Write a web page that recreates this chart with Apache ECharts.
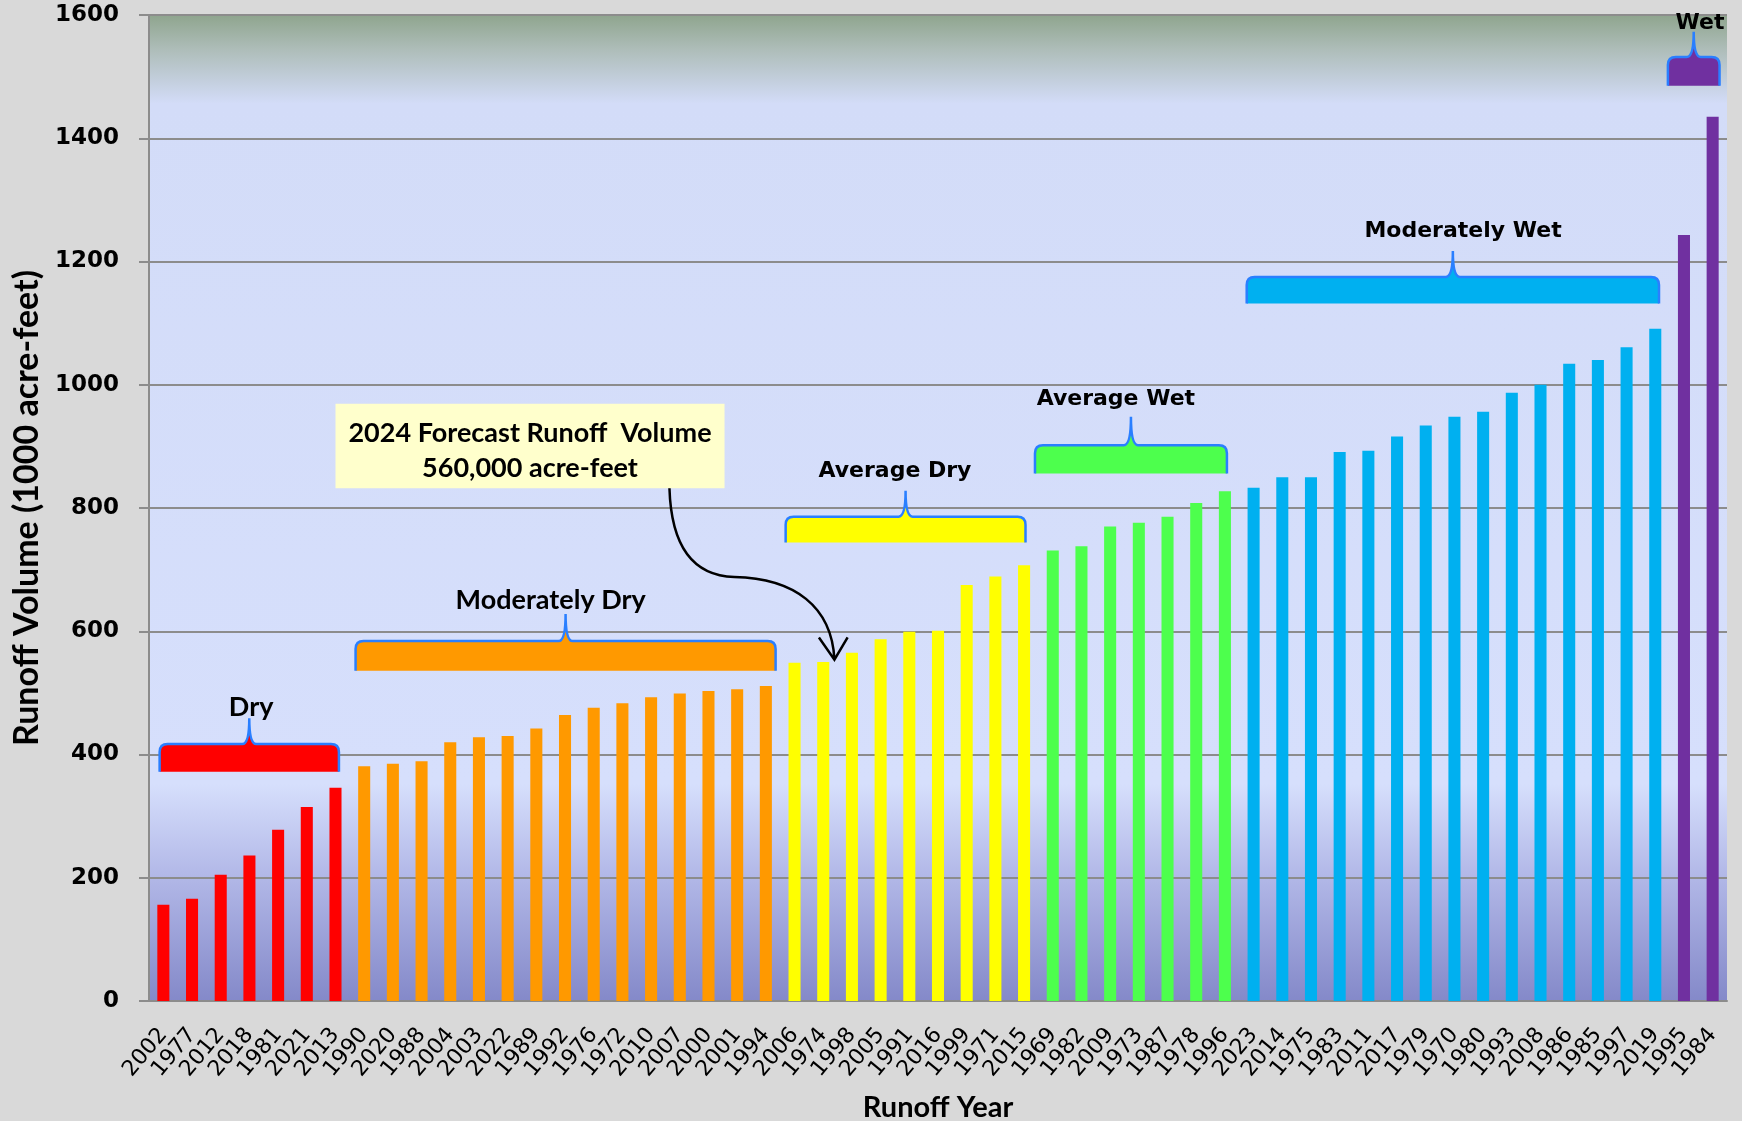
<!DOCTYPE html>
<html>
<head>
<meta charset="utf-8">
<title>Runoff Volume by Runoff Year</title>
<script src="https://cdn.jsdelivr.net/npm/echarts@6/dist/echarts.min.js"></script>
<style>
  html, body { margin: 0; padding: 0; background: #d9d9d9; }
  #main { width: 1742px; height: 1121px; }
</style>
</head>
<body>
<div id="main"></div>
<script>
// runoff years, ordered from driest to wettest
var years = ['2002', '1977', '2012', '2018', '1981', '2021', '2013',
  '1990', '2020', '1988', '2004', '2003', '2022', '1989', '1992', '1976', '1972', '2010', '2007', '2000', '2001', '1994',
  '2006', '1974', '1998', '2005', '1991', '2016', '1999', '1971', '2015',
  '1969', '1982', '2009', '1973', '1987', '1978', '1996',
  '2023', '2014', '1975', '1983', '2011', '2017', '1979', '1970', '1980', '1993', '2008', '1986', '1985', '1997', '2019',
  '1995', '1984'];

// runoff volume, 1000 acre-feet
var runoff = [156, 166, 205, 236, 278, 315, 346,
  381, 385, 389, 420, 428, 430, 442, 464, 476, 483, 493, 499, 503, 506, 511,
  549, 550, 565, 587, 599, 601, 675, 689, 707,
  731, 738, 770, 776, 786, 808, 827,
  833, 850, 850, 891, 893, 916, 934, 948, 956, 987, 1000, 1034, 1040, 1061, 1091,
  1243, 1435];

// year classes, in the same order as the bars
var classNames = ['Dry', 'Moderately Dry', 'Average Dry', 'Average Wet', 'Moderately Wet', 'Wet'];
var classSizes = [7, 15, 9, 7, 15, 2];
var classColors = ['#ff0000', '#ff9900', '#ffff00', '#4dff4d', '#00b0f0', '#7030a0'];

var forecastLines = ['2024 Forecast Runoff  Volume', '560,000 acre-feet'];

// bracket placement, in category units (x) and axis values (y)
var brackets = [
  { from: -0.13, to: 6.12,  bottom: 372,  top: 417,  tip: 459,  lx: 3.06,  ly: 476,  font: 'lato' },
  { from: 6.70,  to: 21.34, bottom: 536,  top: 584,  tip: 628,  lx: 13.5,  ly: 650,  font: 'lato' },
  { from: 21.69, to: 30.05, bottom: 744,  top: 786,  tip: 828,  lx: 25.5,  ly: 859,  font: 'dv' },
  { from: 30.38, to: 37.07, bottom: 856,  top: 902,  tip: 948,  lx: 33.2,  ly: 976,  font: 'dv' },
  { from: 37.76, to: 52.13, bottom: 1132, top: 1175, tip: 1217, lx: 45.3,  ly: 1249, font: 'dv' },
  { from: 52.44, to: 54.24, bottom: 1485, top: 1532, tip: 1573, lx: 53.56, ly: 1587, font: 'dv' }
];

var classOf = [];
classSizes.forEach(function (n, k) {
  for (var i = 0; i < n; i++) classOf.push(k);
});

var barData = runoff.map(function (v, i) {
  return { value: v, itemStyle: { color: classColors[classOf[i]] } };
});

// pixel position for a (category unit, value) pair
function px(api, u, v) {
  var a = api.coord([0, v]);
  var b = api.coord([1, v]);
  return [a[0] + (b[0] - a[0]) * u, a[1]];
}

function renderBracket(params, api) {
  var k = params.dataIndex, b = brackets[k];
  var l = px(api, b.from, b.bottom)[0], r = px(api, b.to, b.bottom)[0];
  var yb = px(api, 0, b.bottom)[1], yt = px(api, 0, b.top)[1], ytip = px(api, 0, b.tip)[1];
  var cx = (l + r) / 2, rad = 8, s = 7;
  var edge = 'M' + l + ',' + yb +
    ' L' + l + ',' + (yt + rad) +
    ' Q' + l + ',' + yt + ' ' + (l + rad) + ',' + yt +
    ' L' + (cx - s) + ',' + yt +
    ' Q' + cx + ',' + yt + ' ' + cx + ',' + ytip +
    ' Q' + cx + ',' + yt + ' ' + (cx + s) + ',' + yt +
    ' L' + (r - rad) + ',' + yt +
    ' Q' + r + ',' + yt + ' ' + r + ',' + (yt + rad) +
    ' L' + r + ',' + yb;
  var p = px(api, b.lx, b.ly);
  return {
    type: 'group',
    children: [
      { type: 'path', shape: { pathData: edge + ' Z' }, style: { fill: classColors[k], stroke: null } },
      { type: 'path', shape: { pathData: edge }, style: { fill: null, stroke: '#2a7fff', lineWidth: 2.5 } },
      { type: 'text', x: p[0], y: p[1], style: {
          text: classNames[k], align: 'center', verticalAlign: 'middle', fill: '#000',
          font: b.font === 'lato' ? 'bold 27px Lato' : 'bold 22px "DejaVu Sans"'
        } }
    ]
  };
}

function renderNote(params, api) {
  var b0 = px(api, 6.0, 969), b1 = px(api, 19.56, 832);
  var t1 = px(api, 12.78, 921), t2 = px(api, 12.78, 865);
  var a0 = px(api, 17.64, 832), c1 = px(api, 17.7, 740), c2 = px(api, 18.4, 690), a1 = px(api, 19.9, 688);
  var c3 = px(api, 22.0, 686), c4 = px(api, 23.3, 640), a2 = px(api, 23.39, 554);
  var h1 = px(api, 22.85, 590), h2 = px(api, 23.85, 590);
  return {
    type: 'group',
    children: [
      { type: 'rect', shape: { x: b0[0], y: b0[1], width: b1[0] - b0[0], height: b1[1] - b0[1] },
        style: { fill: '#ffffcc' } },
      { type: 'text', x: t1[0], y: t1[1], style: { text: forecastLines[0], align: 'center',
          verticalAlign: 'middle', fill: '#000', font: 'bold 27px Lato' } },
      { type: 'text', x: t2[0], y: t2[1], style: { text: forecastLines[1], align: 'center',
          verticalAlign: 'middle', fill: '#000', font: 'bold 27px Lato' } },
      { type: 'path', shape: { pathData: 'M' + a0 + ' C' + c1 + ' ' + c2 + ' ' + a1 +
          ' C' + c3 + ' ' + c4 + ' ' + a2 + ' M' + h1 + ' L' + a2 + ' L' + h2 },
        style: { fill: null, stroke: '#000', lineWidth: 2.5 } }
    ]
  };
}

var chart = echarts.init(document.getElementById('main'));

var option = {
  backgroundColor: '#d9d9d9',
  animation: false,
  grid: {
    left: 149, right: 15, top: 15, bottom: 120,
    containLabel: false,
    outerBoundsMode: 'none',
    show: true,
    borderWidth: 0,
    backgroundColor: {
      type: 'linear', x: 0, y: 0, x2: 0, y2: 1,
      colorStops: [
        { offset: 0, color: '#8fa58e' },
        { offset: 0.035, color: '#aebdb9' },
        { offset: 0.09, color: '#d3dcf8' },
        { offset: 0.78, color: '#d6dffc' },
        { offset: 0.87, color: '#b3b9e8' },
        { offset: 1, color: '#8489c9' }
      ]
    }
  },
  xAxis: {
    type: 'category',
    data: years,
    name: 'Runoff Year',
    nameLocation: 'middle',
    nameGap: 92,
    nameTextStyle: { fontFamily: 'Lato', fontWeight: 'bold', fontSize: 29, color: '#000' },
    axisLine: { lineStyle: { color: '#8c8c8c', width: 2 } },
    axisTick: { length: 7, lineStyle: { color: '#8c8c8c', width: 2 } },
    axisLabel: {
      interval: 0, rotate: 50, margin: 30,
      fontFamily: 'DejaVu Sans', fontSize: 22, color: '#000'
    }
  },
  yAxis: {
    type: 'value',
    min: 0, max: 1600, interval: 200,
    name: 'Runoff Volume (1000 acre-feet)',
    nameLocation: 'middle',
    nameRotate: 90,
    nameGap: 104,
    nameTextStyle: { fontFamily: 'Lato', fontWeight: 'bold', fontSize: 34, color: '#000' },
    axisLine: { show: true, lineStyle: { color: '#8c8c8c', width: 2 } },
    axisTick: { show: true, length: 10, lineStyle: { color: '#8c8c8c', width: 2 } },
    axisLabel: {
      margin: 30,
      fontFamily: 'DejaVu Sans', fontWeight: 'bold', fontSize: 23, color: '#000',
      formatter: function (v) { return String(v); }
    },
    splitLine: { lineStyle: { color: '#8c8c8c', width: 2 } }
  },
  series: [{
    type: 'bar',
    data: barData,
    barWidth: '42%'
  }, {
    type: 'custom',
    z: 3,
    renderItem: renderBracket,
    data: brackets.map(function (b, i) { return [i, 0]; })
  }, {
    type: 'custom',
    z: 4,
    renderItem: renderNote,
    data: [[0, 0]]
  }]
};

chart.setOption(option);
</script>
</body>
</html>
